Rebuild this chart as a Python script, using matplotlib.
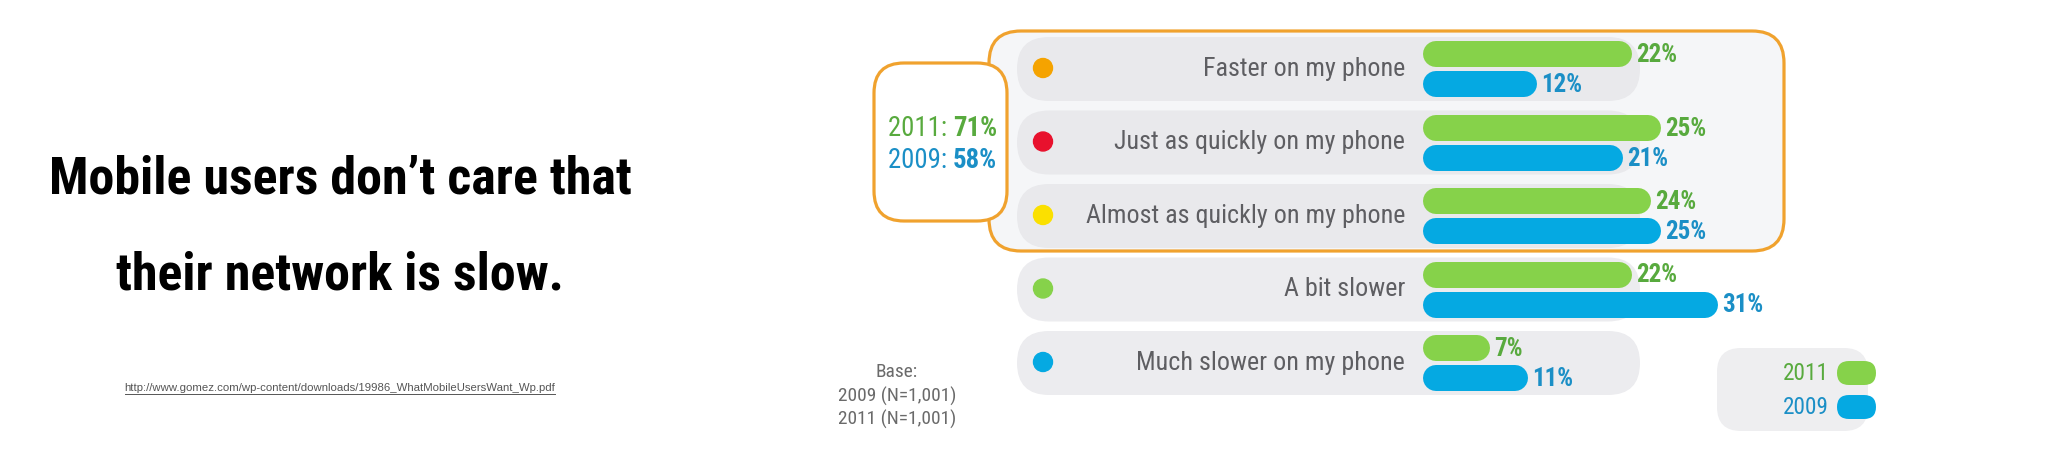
import matplotlib
matplotlib.use('Agg')
import matplotlib.pyplot as plt
from matplotlib import font_manager
from matplotlib.font_manager import FontProperties
from matplotlib.patches import FancyBboxPatch, Circle

# --- data -------------------------------------------------------------
categories = ['Faster on my phone', 'Just as quickly on my phone',
              'Almost as quickly on my phone', 'A bit slower',
              'Much slower on my phone']
values_2011 = [22, 25, 24, 22, 7]
values_2009 = [12, 21, 25, 31, 11]
dot_colors = ['#f5a300', '#e8112d', '#fbe000', '#86d24a', '#05a9e2']
series_names = ['2011', '2009']
total_2011 = 71
total_2009 = 58
title_lines = ['Mobile users don\u2019t care that', 'their network is slow.']
source_url = 'http://www.gomez.com/wp-content/downloads/19986_WhatMobileUsersWant_Wp.pdf'
base_lines = ['Base:', '2009 (N=1,001)', '2011 (N=1,001)']

# --- style --------------------------------------------------------------
W, H = 2048, 455
GREEN, BLUE = '#86d24a', '#05a9e2'
GREEN_TXT, BLUE_TXT = '#58aa3e', '#1b8fc6'
ORANGE = '#f0a22e'
GREY_TXT = '#5e5e62'
PILL = '#e9e9ec'


def pick_font(bold):
    # look for a narrow / condensed face, else plain DejaVu Sans
    want = 'bold' if bold else 'normal'
    found = []
    for f in font_manager.fontManager.ttflist:
        narrow = ('Narrow' in f.name or 'Condensed' in f.name
                  or f.stretch in ('condensed', 'semi-condensed', 'extra-condensed'))
        if not narrow or f.style != 'normal':
            continue
        w = f.weight if isinstance(f.weight, int) else (700 if f.weight == 'bold' else 400)
        if (w >= 600) == bold:
            found.append((f.name, f.fname))
    order = ['Liberation Sans Narrow', 'Roboto Condensed', 'DejaVu Sans', 'DejaVu Sans Condensed',
             'Noto Sans', 'Open Sans', 'Noto Sans Condensed', 'Open Sans Condensed']
    found.sort(key=lambda t: order.index(t[0]) if t[0] in order else 99)
    if found:
        return FontProperties(fname=found[0][1])
    return FontProperties(family='DejaVu Sans', weight=want)


NARROW = pick_font(False)
NARROW_B = pick_font(True)

BAR_X0 = 1423          # pixel where 0 % starts
PX_PER_PCT = 9.5
BAR_H = 26
row_y = [69 + 73.5 * i for i in range(len(categories))]

fig = plt.figure(figsize=(W / 100, H / 100), dpi=100)
fig.patch.set_facecolor('white')
ax = fig.add_axes([0, 0, 1, 1])
ax.set_xlim(0, W)
ax.set_ylim(H, 0)
ax.axis('off')
renderer = fig.canvas.get_renderer()


def fit(s, fp, width_px, max_size):
    # font size so that s is about width_px wide, not above max_size
    p = fp.copy()
    p.set_size(100)
    w = renderer.get_text_width_height_descent(s, p, ismath=False)[0]
    return min(max_size, 100 * width_px / w)


def rbox(x0, y0, x1, y1, r, **kw):
    ax.add_patch(FancyBboxPatch((x0, y0), x1 - x0, y1 - y0,
                                boxstyle=f'round,pad=0,rounding_size={r}', **kw))


# left side: headline and source
ts = fit(title_lines[0], NARROW_B, 583, 39)
for line, base in zip(title_lines, [193, 290]):
    ax.text(340, base, line, ha='center', va='baseline', fontproperties=NARROW_B,
            fontsize=ts, color='black')
url = ax.text(340, 391, source_url, ha='center', va='baseline', fontsize=8.2,
              family='Liberation Sans', color='#555555')

# group box for the first three answers
rbox(989, 31, 1784, 251, 32, facecolor='#f5f6f8', edgecolor=ORANGE, linewidth=2.3, zorder=1)
# summary box
rbox(874, 63, 1007, 221, 30, facecolor='white', edgecolor=ORANGE, linewidth=2.3, zorder=3)
ss = fit('2011: 71%', NARROW_B, 112, 20)
for lab, tot, col, y in [('2011: ', total_2011, GREEN_TXT, 128), ('2009: ', total_2009, BLUE_TXT, 160)]:
    pct = ax.text(997, y, f'{tot}%', ha='right', va='center', fontproperties=NARROW_B,
                  fontsize=ss, color=col, zorder=4)
    ax.annotate(lab, xy=(0, 0.5), xycoords=pct, ha='right', va='center',
                fontproperties=NARROW, fontsize=ss, color=col, zorder=4)

# row pills, dots and labels
ls = fit(categories[2], NARROW, 319, 21)
for i, (cat, y) in enumerate(zip(categories, row_y)):
    rbox(1017, y - 32, 1640, y + 32, 32, facecolor=PILL if i < 3 else '#ececef',
         edgecolor='none', zorder=2)
    ax.add_patch(Circle((1043, y - 1), 9.5, color=dot_colors[i], zorder=4))
    ax.text(1405, y, cat, ha='right', va='center', fontproperties=NARROW, fontsize=ls,
            color=GREY_TXT, zorder=4)

# base note
bs = fit(base_lines[1], NARROW, 118, 15)
for line, y in zip(base_lines, [372, 396, 419]):
    ax.text(897, y, line, ha='center', va='center', fontproperties=NARROW, fontsize=bs,
            color='#6a6a6a')

# legend
rbox(1717, 348, 1868, 431, 24, facecolor='#eeeef0', edgecolor='none', zorder=2)
gs = fit('2011', NARROW, 46, 20)
for name, col, tcol, y in zip(series_names, [GREEN, BLUE], [GREEN_TXT, BLUE_TXT], [373, 407]):
    rbox(1837, y - 12, 1876, y + 12, 12, facecolor=col, edgecolor='none', zorder=3)
    ax.text(1829, y, name, ha='right', va='center', fontproperties=NARROW, fontsize=gs,
            color=tcol, zorder=4)

# bars, in percent units on their own axes
bx = fig.add_axes([BAR_X0 / W, 0, (W - BAR_X0) / W, 1])
bx.set_xlim(0, (W - BAR_X0) / PX_PER_PCT)
bx.set_ylim(H, 0)
bx.axis('off')
bx.patch.set_alpha(0)
cap = BAR_H / 2 / PX_PER_PCT
vs = fit('22%', NARROW_B, 44, 18)
for vals, col, tcol, dy in [(values_2011, GREEN, GREEN_TXT, -15),
                            (values_2009, BLUE, BLUE_TXT, 15)]:
    for v, y in zip(vals, row_y):
        bx.plot([cap, v - cap], [y + dy, y + dy], color=col, lw=BAR_H * 0.72,
                solid_capstyle='round', zorder=3)
        bx.annotate(f'{v}%', xy=(v, y + dy + 1), xytext=(3, 0),
                    textcoords='offset points', ha='left', va='center',
                    fontproperties=NARROW_B, fontsize=vs, color=tcol)

# underline the source link
fig.canvas.draw()
bb = url.get_window_extent().transformed(ax.transData.inverted())
ax.plot([bb.x0, bb.x1], [394, 394], color='#555555', lw=0.7)

fig.savefig('out.png', dpi=100)
